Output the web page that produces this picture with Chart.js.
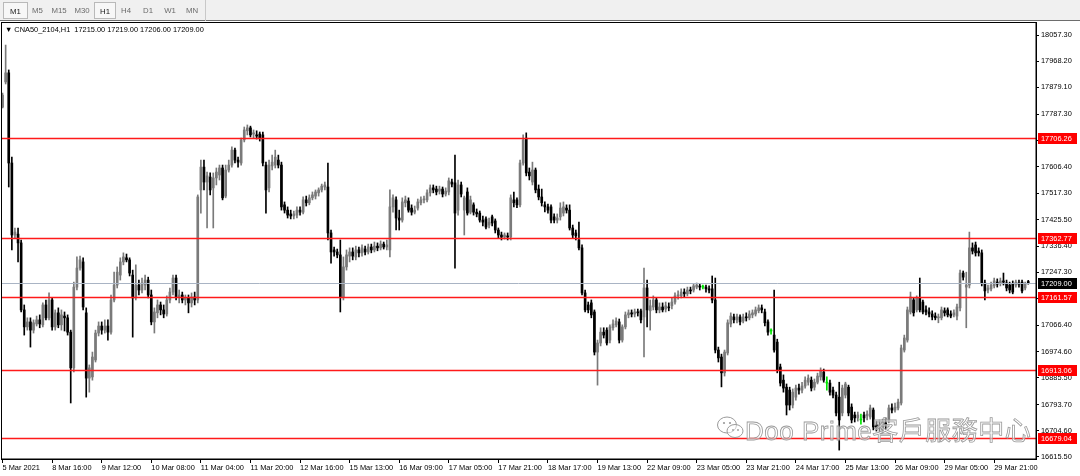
<!DOCTYPE html>
<html><head><meta charset="utf-8">
<script src="https://cdn.jsdelivr.net/npm/chart.js@4.4.1/dist/chart.umd.min.js"></script>
<style>
html,body{margin:0;padding:0;background:#fff;}
#wrap{position:relative;width:1080px;height:476px;overflow:hidden;background:#fff;}
#c{position:absolute;left:0;top:0;}
#topbar{position:absolute;left:0;top:0;width:1080px;height:21px;background:#f0f0f0;border-bottom:1px solid #6d6d6d;box-sizing:border-box;}
#tools{position:absolute;left:0;top:0;width:206px;height:21px;border-right:1px solid #c8c8c8;box-sizing:border-box;}
.tab{position:absolute;top:2px;height:17px;font:7.8px 'Liberation Sans','DejaVu Sans',sans-serif;color:#6a6a6a;line-height:17px;text-align:center;box-sizing:border-box;}
.sel{background:#f7f7f7;border:1px solid #b9b9b9;color:#202020;}
#title{position:absolute;left:5px;top:25px;font:7.4px 'Liberation Sans','DejaVu Sans',sans-serif;color:#000;white-space:pre;}
#wm{position:absolute;left:745px;top:410px;font-size:26px;font-family:'Liberation Sans','Noto Sans CJK TC',sans-serif;color:rgba(255,255,255,0.55);-webkit-text-stroke:0.8px #9a9a9a;white-space:nowrap;letter-spacing:0.5px;}
#wmicon{position:absolute;left:716px;top:414px;}
</style></head>
<body><div id="wrap">
<canvas id="c" width="1080" height="476"></canvas>
<div id="topbar"><div id="tools">
<div class="tab sel" style="left:3px;width:25px;">M1</div>
<div class="tab" style="left:29px;width:17px;">M5</div>
<div class="tab" style="left:49px;width:20px;">M15</div>
<div class="tab" style="left:72px;width:20px;">M30</div>
<div class="tab sel" style="left:94px;width:22px;">H1</div>
<div class="tab" style="left:119px;width:14px;">H4</div>
<div class="tab" style="left:141px;width:14px;">D1</div>
<div class="tab" style="left:163px;width:14px;">W1</div>
<div class="tab" style="left:184px;width:16px;">MN</div>
</div></div>
<div id="title">▼ CNA50_2104,H1  17215.00 17219.00 17206.00 17209.00</div>
<svg id="wmicon" width="30" height="28" viewBox="0 0 30 28"><g fill="rgba(255,255,255,0.5)" stroke="#9a9a9a" stroke-width="1"><ellipse cx="11" cy="11" rx="9.5" ry="8"/><ellipse cx="19" cy="17" rx="8" ry="6.5"/></g><g fill="#9a9a9a"><circle cx="8" cy="9" r="1.1"/><circle cx="14" cy="9" r="1.1"/><circle cx="17" cy="16" r="0.9"/><circle cx="22" cy="16" r="0.9"/></g></svg>
<div id="wm">Doo Prime客戶服務中心</div>
</div>
<script>
// ---- data ----
const tickLabels = ['5 Mar 2021','8 Mar 16:00','9 Mar 12:00','10 Mar 08:00','11 Mar 04:00','11 Mar 20:00','12 Mar 16:00','15 Mar 13:00','16 Mar 09:00','17 Mar 05:00','17 Mar 21:00','18 Mar 17:00','19 Mar 13:00','22 Mar 09:00','23 Mar 05:00','23 Mar 21:00','24 Mar 17:00','25 Mar 13:00','26 Mar 09:00','29 Mar 05:00','29 Mar 21:00'];
const yTickValues = [18057.30,17968.20,17879.10,17787.30,17698.20,17606.40,17517.30,17425.50,17336.40,17247.30,17158.20,17066.40,16974.60,16885.50,16793.70,16704.60,16615.50];
const levelLines = [17706.26,17362.77,17161.57,16913.06,16679.04];
const bidPrice = 17209.00;

const openP = [
17811,17897,17928,17620,17374,17377,17347,17118,17060,17077,
17049,17070,17084,17067,17135,17091,17152,17060,17108,17067,
17097,17091,17042,16920,17196,17261,17282,17108,16885,16889,
16947,17039,17063,17049,17063,17042,17152,17203,17237,17282,
17296,17289,17237,17159,17203,17186,17203,17220,17169,17077,
17108,17135,17118,17104,17152,17179,17227,17162,17169,17152,
17159,17142,17162,17152,17528,17606,17555,17572,17535,17569,
17579,17603,17507,17596,17613,17664,17630,17620,17699,17730,
17740,17719,17716,17719,17716,17613,17535,17610,17613,17630,
17613,17477,17459,17446,17439,17442,17459,17452,17494,17484,
17501,17507,17518,17528,17538,17538,17381,17323,17316,17306,
17162,17265,17302,17316,17299,17323,17313,17326,17316,17333,
17323,17336,17330,17343,17333,17323,17470,17494,17432,17425,
17484,17490,17466,17452,17466,17484,17494,17494,17518,17535,
17531,17524,17531,17514,17521,17555,17552,17459,17545,17459,
17521,17452,17477,17452,17449,17425,17429,17408,17436,17422,
17391,17374,17367,17371,17367,17494,17494,17477,17620,17705,
17589,17555,17596,17531,17504,17477,17470,17470,17436,17425,
17436,17449,17466,17459,17398,17381,17357,17330,17176,17135,
17142,17111,16974,17005,17042,17049,17015,17057,17067,17077,
17015,17060,17101,17108,17104,17111,17115,17094,17193,17115,
17128,17152,17118,17128,17121,17128,17132,17145,17166,17166,
17179,17173,17186,17186,17196,17200,17196,17196,17190,17190,
17152,16981,16957,16903,16971,17070,17094,17084,17094,17080,
17094,17091,17101,17104,17115,17125,17111,17077,17046,17032,
17008,16923,16878,16854,16844,16793,16820,16851,16844,16858,
16871,16878,16854,16871,16889,16906,16868,16868,16844,16827,
16820,16766,16827,16854,16786,16759,16749,16742,16759,16756,
16752,16776,16725,16715,16708,16732,16742,16783,16776,16783,
16800,16981,17015,17111,17152,17118,17159,17145,17118,17111,
17104,17097,17091,17091,17115,17118,17104,17101,17097,17125,
17244,17196,17203,17330,17340,17319,17313,17210,17186,17190,
17200,17213,17210,17217,17210,17203,17206,17203,17210,17213,
17193,17215];
const highP = [
17859,18023,17938,17640,17398,17398,17357,17135,17091,17091,
17084,17097,17101,17142,17152,17176,17159,17118,17125,17118,
17111,17101,17049,17213,17299,17302,17296,17125,16930,16974,
17049,17077,17077,17084,17084,17169,17247,17265,17296,17313,
17309,17296,17254,17272,17220,17227,17237,17230,17186,17125,
17152,17145,17135,17166,17193,17237,17237,17186,17179,17169,
17169,17176,17179,17511,17630,17630,17589,17586,17586,17603,
17613,17613,17613,17630,17675,17671,17640,17705,17743,17750,
17746,17733,17730,17726,17726,17623,17630,17647,17664,17647,
17623,17487,17470,17459,17456,17470,17470,17504,17507,17511,
17521,17528,17535,17548,17555,17620,17391,17333,17326,17357,
17299,17323,17330,17330,17336,17333,17340,17336,17343,17343,
17350,17347,17354,17350,17357,17528,17511,17504,17459,17501,
17507,17501,17477,17473,17497,17504,17507,17528,17545,17545,
17541,17541,17538,17535,17569,17565,17647,17562,17555,17507,
17535,17507,17484,17463,17456,17439,17436,17432,17442,17429,
17398,17384,17381,17381,17511,17521,17501,17630,17716,17723,
17603,17623,17603,17545,17531,17487,17480,17477,17446,17446,
17484,17487,17477,17477,17408,17391,17418,17340,17186,17145,
17152,17118,17015,17057,17057,17057,17067,17084,17091,17087,
17067,17111,17118,17118,17121,17121,17121,17261,17220,17152,
17166,17159,17142,17142,17145,17142,17159,17176,17183,17190,
17190,17196,17196,17206,17210,17206,17203,17203,17200,17234,
17227,16991,16967,16981,17084,17108,17104,17104,17101,17104,
17108,17115,17118,17128,17135,17135,17121,17084,17053,17186,
17018,16933,16896,16865,16854,16848,16861,16865,16871,16889,
16896,16889,16882,16902,16920,16916,16889,16878,16854,16837,
16871,16861,16871,16861,16797,16769,16769,16762,16769,16773,
16793,16783,16738,16742,16745,16749,16793,16797,16800,16813,
16998,17032,17128,17179,17159,17166,17227,17152,17132,17125,
17115,17108,17104,17128,17125,17125,17115,17118,17138,17254,
17251,17247,17384,17347,17350,17330,17323,17220,17203,17213,
17227,17224,17227,17244,17220,17213,17217,17220,17220,17220,
17213,17219];
const lowP = [
17808,17890,17538,17323,17364,17282,17111,17032,17049,16991,
17039,17063,17057,17060,17084,17084,17049,17049,17057,17049,
17046,17032,16800,16906,17186,17254,17118,16820,16837,16878,
16940,17029,17035,17039,17015,17035,17145,17193,17220,17272,
17282,17234,17025,17152,17169,17176,17186,17159,17067,17039,
17091,17101,17091,17097,17142,17169,17152,17142,17142,17135,
17108,17128,17135,17142,17449,17528,17398,17511,17398,17545,
17562,17494,17501,17589,17606,17620,17606,17613,17692,17716,
17709,17705,17702,17695,17610,17449,17521,17596,17603,17603,
17459,17449,17432,17429,17429,17432,17442,17446,17473,17477,
17494,17497,17507,17521,17528,17357,17278,17302,17296,17111,
17152,17254,17282,17289,17289,17299,17302,17306,17309,17313,
17316,17320,17323,17326,17323,17299,17452,17391,17391,17418,
17470,17452,17442,17446,17459,17477,17484,17487,17507,17518,
17511,17514,17504,17507,17511,17538,17261,17442,17504,17374,
17442,17446,17442,17436,17418,17405,17395,17398,17405,17381,
17364,17357,17360,17357,17357,17470,17467,17470,17613,17576,
17562,17545,17518,17494,17473,17453,17449,17415,17415,17415,
17425,17439,17449,17391,17364,17357,17323,17169,17111,17108,
17091,16964,16861,16995,17022,16998,17005,17049,17060,17005,
17008,17053,17091,17094,17094,17097,17074,16957,17060,17049,
17118,17108,17108,17111,17111,17115,17121,17138,17155,17159,
17162,17166,17173,17179,17190,17186,17190,17179,17176,17142,
16971,16940,16855,16892,16964,17060,17074,17074,17067,17074,
17080,17084,17091,17097,17108,17108,17063,17032,17035,16974,
16903,16858,16837,16759,16776,16783,16810,16830,16834,16851,
16861,16841,16844,16865,16878,16871,16844,16827,16817,16756,
16639,16756,16817,16756,16732,16735,16738,16728,16735,16742,
16745,16708,16704,16701,16698,16708,16732,16766,16769,16776,
16793,16974,17008,17104,17097,17111,17111,17104,17101,17094,
17084,17084,17074,17084,17097,17094,17091,17094,17084,17115,
17220,17057,17193,17309,17302,17302,17200,17152,17176,17183,
17193,17196,17200,17203,17183,17176,17173,17196,17196,17176,
17186,17206];
const closeP = [
17852,17928,17620,17374,17384,17347,17118,17060,17077,17049,
17074,17084,17070,17135,17091,17152,17060,17108,17067,17101,
17091,17042,16920,17196,17261,17289,17128,16885,16920,16957,
17039,17063,17049,17063,17042,17152,17203,17247,17282,17299,
17289,17244,17159,17203,17186,17210,17220,17169,17077,17111,
17135,17118,17104,17152,17179,17227,17162,17169,17152,17159,
17142,17162,17152,17504,17606,17555,17576,17528,17569,17589,
17603,17501,17596,17613,17664,17630,17623,17699,17733,17740,
17716,17723,17712,17705,17620,17528,17613,17623,17640,17613,
17470,17459,17442,17439,17446,17459,17452,17494,17484,17501,
17511,17521,17528,17541,17545,17381,17316,17316,17306,17162,
17265,17306,17316,17302,17323,17313,17330,17316,17333,17323,
17336,17330,17343,17333,17340,17470,17501,17432,17425,17487,
17494,17459,17452,17459,17487,17494,17497,17518,17535,17528,
17521,17531,17514,17524,17559,17548,17449,17545,17514,17501,
17449,17494,17452,17446,17425,17418,17401,17418,17415,17391,
17374,17367,17374,17367,17501,17484,17477,17620,17699,17586,
17576,17596,17528,17504,17484,17470,17459,17425,17425,17432,
17466,17470,17459,17398,17374,17371,17330,17176,17118,17118,
17101,16974,17005,17042,17032,17005,17060,17070,17080,17015,
17060,17101,17108,17104,17111,17108,17084,17193,17118,17132,
17152,17118,17128,17118,17132,17125,17145,17166,17169,17179,
17173,17186,17183,17200,17203,17196,17196,17190,17186,17152,
16981,16954,16903,16974,17074,17097,17084,17094,17077,17094,
17091,17104,17108,17118,17125,17118,17074,17042,17046,16981,
16913,16868,16851,16793,16793,16837,16851,16844,16858,16878,
16885,16851,16871,16892,16910,16878,16868,16837,16827,16766,
16742,16851,16865,16766,16742,16749,16759,16742,16749,16762,
16783,16718,16715,16725,16735,16725,16783,16776,16786,16803,
16988,17022,17118,17162,17108,17159,17118,17111,17111,17104,
17094,17091,17094,17118,17108,17101,17097,17108,17128,17244,
17230,17203,17330,17319,17313,17313,17210,17183,17193,17203,
17217,17206,17217,17213,17193,17186,17179,17213,17206,17183,
17206,17209];

// ---- build ----
const N_SLOTS = 334;
const BULL = '#7a7a7a', BEAR = '#000000', DOJI = '#00e600';
const labels = [], wickData = [], bodyData = [], candleColors = [];
for (let i = 0; i < N_SLOTS; i++) {
  labels.push(i % 16 === 0 && tickLabels[i / 16] !== undefined ? tickLabels[i / 16] : '');
  if (i < openP.length) {
    wickData.push([lowP[i], highP[i]]);
    bodyData.push([Math.min(openP[i], closeP[i]), Math.max(openP[i], closeP[i])]);
    candleColors.push(closeP[i] > openP[i] ? BULL : (closeP[i] < openP[i] ? BEAR : DOJI));
  } else { wickData.push(null); bodyData.push(null); candleColors.push(BEAR); }
}
const FONT = {family: "'Liberation Sans','DejaVu Sans',sans-serif", size: 7.4};

const levelPlugin = {
  id: 'levels',
  afterDatasetsDraw(chart) {
    const {ctx, chartArea: a, scales: {y}} = chart;
    ctx.save();
    ctx.beginPath(); ctx.rect(a.left, a.top, a.right - a.left, a.bottom - a.top); ctx.clip();
    const yb = Math.round(y.getPixelForValue(bidPrice)) + 0.5;
    ctx.strokeStyle = '#a9b4c4'; ctx.lineWidth = 1;
    ctx.beginPath(); ctx.moveTo(a.left, yb); ctx.lineTo(a.right, yb); ctx.stroke();
    ctx.strokeStyle = '#ff1a1a'; ctx.lineWidth = 1.3;
    levelLines.forEach(v => {
      const py = Math.round(y.getPixelForValue(v)) + 0.5;
      ctx.beginPath(); ctx.moveTo(a.left, py); ctx.lineTo(a.right, py); ctx.stroke();
    });
    ctx.restore();
  },
  afterDraw(chart) {
    const {ctx, chartArea: a, scales: {y}} = chart;
    ctx.save();
    ctx.strokeStyle = '#000'; ctx.lineWidth = 1;
    ctx.strokeRect(a.left + 0.5, a.top + 0.5, a.right - a.left - 0.5, a.bottom - a.top - 0.5);
    ctx.font = "7.4px 'Liberation Sans','DejaVu Sans',sans-serif";
    ctx.textBaseline = 'middle';
    const tag = (v, bg) => {
      const py = Math.round(y.getPixelForValue(v));
      ctx.fillStyle = bg; ctx.fillRect(a.right + 2, py - 5, 39, 11);
      ctx.fillStyle = '#fff'; ctx.fillText(v.toFixed(2), a.right + 5, py + 0.5);
    };
    levelLines.forEach(v => tag(v, '#ff0000'));
    tag(bidPrice, '#000000');
    ctx.restore();
  }
};

new Chart(document.getElementById('c'), {
  type: 'bar',
  data: {
    labels: labels,
    datasets: [
      {label: 'body', data: bodyData, backgroundColor: candleColors, borderWidth: 0, barThickness: 2, minBarLength: 1, grouped: false},
      {label: 'wick', data: wickData, backgroundColor: candleColors, borderWidth: 0, barThickness: 1, grouped: false}
    ]
  },
  options: {
    responsive: false, animation: false, events: [],
    layout: {padding: {top: 22, left: 1, right: 0, bottom: 0}, autoPadding: false},
    plugins: {legend: {display: false}, tooltip: {enabled: false}, title: {display: false}},
    scales: {
      x: {
        type: 'category', offset: true,
        afterBuildTicks: s => { s.ticks = s.ticks.filter(t => labels[t.value] !== ''); },
        afterFit: s => { s.height = 17; },
        ticks: {autoSkip: false, maxRotation: 0, minRotation: 0, align: 'start', padding: 1, font: FONT, color: '#000'},
        grid: {drawOnChartArea: false, offset: false, tickLength: 4, color: '#000'},
        border: {display: true, color: '#000'}
      },
      y: {
        position: 'right', min: 16608.6, max: 18101.8,
        afterBuildTicks: s => { s.ticks = yTickValues.map(v => ({value: v})); },
        afterFit: s => { s.width = 44; },
        ticks: {autoSkip: false, padding: 2, font: FONT, color: '#000', callback: v => Number(v).toFixed(2)},
        grid: {drawOnChartArea: false, tickLength: 3, color: '#000'},
        border: {display: true, color: '#000'}
      }
    }
  },
  plugins: [levelPlugin]
});
</script>
</body></html>
